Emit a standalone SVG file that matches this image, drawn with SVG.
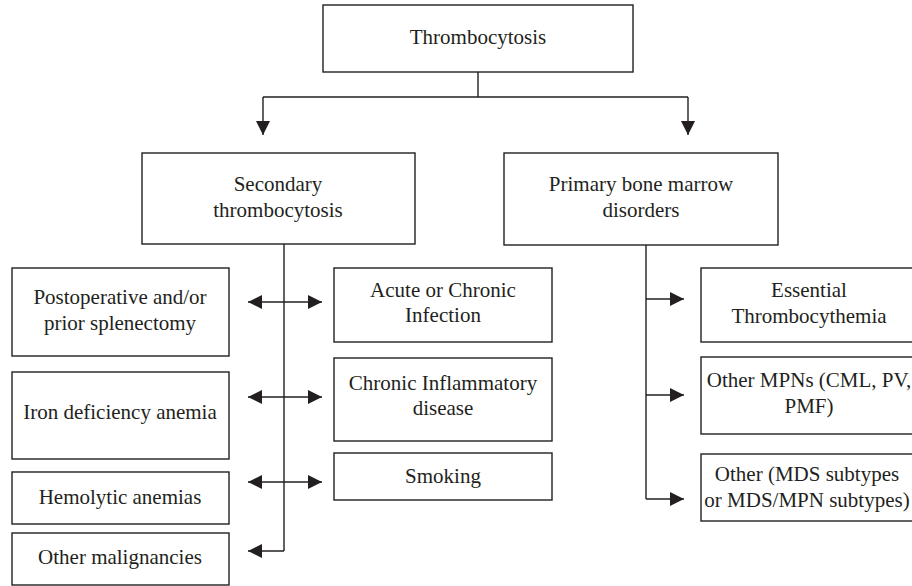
<svg xmlns="http://www.w3.org/2000/svg" width="912" height="586" viewBox="0 0 912 586">
<style>
.box{fill:#fff;stroke:#231f20;stroke-width:1.4}
.ln{fill:none;stroke:#231f20;stroke-width:1.4}
text{font-family:"Liberation Serif","Times New Roman",serif;font-size:21px;fill:#231f20;text-anchor:middle}
</style>
<defs>
<marker id="ah" markerUnits="userSpaceOnUse" markerWidth="16" markerHeight="14" refX="14" refY="7" orient="auto-start-reverse">
<path d="M0,0 L14,7 L0,14 Z" fill="#231f20"/>
</marker>
</defs>
<rect width="912" height="586" fill="#fff"/>
<g id="connectors">
<path class="ln" d="M478,72 V97 M263,97 H688"/>
<path class="ln" d="M263,97 V135" marker-end="url(#ah)"/>
<path class="ln" d="M688,97 V135" marker-end="url(#ah)"/>
<path class="ln" d="M284,244 V551"/>
<path class="ln" d="M284,302 H248" marker-end="url(#ah)"/>
<path class="ln" d="M284,302 H322" marker-end="url(#ah)"/>
<path class="ln" d="M284,397 H248" marker-end="url(#ah)"/>
<path class="ln" d="M284,397 H322" marker-end="url(#ah)"/>
<path class="ln" d="M284,482 H248" marker-end="url(#ah)"/>
<path class="ln" d="M284,482 H322" marker-end="url(#ah)"/>
<path class="ln" d="M284,551 H248" marker-end="url(#ah)"/>
<path class="ln" d="M646,245 V499"/>
<path class="ln" d="M646,299 H684" marker-end="url(#ah)"/>
<path class="ln" d="M646,395 H684" marker-end="url(#ah)"/>
<path class="ln" d="M646,499 H684" marker-end="url(#ah)"/>
</g>
<g id="thrombocytosis"><rect class="box" x="323" y="5" width="310" height="67"/><text x="478" y="44">Thrombocytosis</text></g>
<g id="secondary"><rect class="box" x="142" y="153" width="273" height="91"/><text x="278" y="191">Secondary</text><text x="278" y="217">thrombocytosis</text></g>
<g id="primary"><rect class="box" x="504" y="153" width="274" height="92"/><text x="641" y="191">Primary bone marrow</text><text x="641" y="217">disorders</text></g>
<g id="postoperative"><rect class="box" x="12" y="268" width="217" height="88"/><text x="120" y="304">Postoperative and/or</text><text x="120" y="330">prior splenectomy</text></g>
<g id="iron"><rect class="box" x="12" y="372" width="217" height="87"/><text x="120" y="419">Iron deficiency anemia</text></g>
<g id="hemolytic"><rect class="box" x="12" y="472" width="217" height="52"/><text x="120" y="504">Hemolytic anemias</text></g>
<g id="malignancies"><rect class="box" x="12" y="533" width="217" height="52"/><text x="120" y="564">Other malignancies</text></g>
<g id="infection"><rect class="box" x="334" y="268" width="218" height="74"/><text x="443" y="297">Acute or Chronic</text><text x="443" y="322">Infection</text></g>
<g id="inflammatory"><rect class="box" x="334" y="358" width="218" height="83"/><text x="443" y="390">Chronic Inflammatory</text><text x="443" y="415">disease</text></g>
<g id="smoking"><rect class="box" x="334" y="453" width="218" height="47"/><text x="443" y="483">Smoking</text></g>
<g id="essential"><rect class="box" x="701" y="268" width="230" height="74"/><text x="809" y="297">Essential</text><text x="809" y="323">Thrombocythemia</text></g>
<g id="mpns"><rect class="box" x="701" y="357" width="230" height="77"/><text x="809" y="387">Other MPNs (CML, PV,</text><text x="809" y="413">PMF)</text></g>
<g id="mds"><rect class="box" x="701" y="454" width="230" height="67"/><text x="807" y="481">Other (MDS subtypes</text><text x="807" y="507">or MDS/MPN subtypes)</text></g>
</svg>
